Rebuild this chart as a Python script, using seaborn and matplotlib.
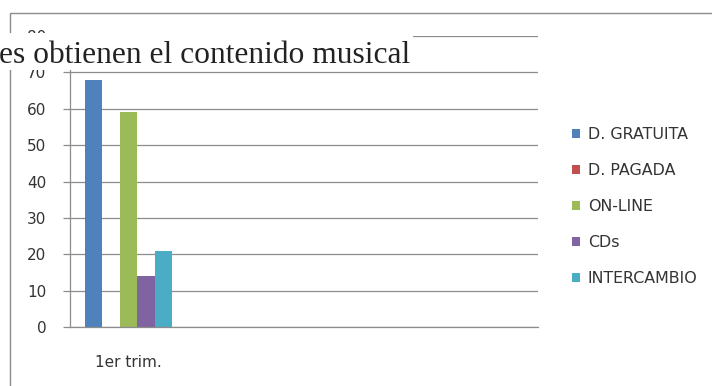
import numpy as np
import pandas as pd
import matplotlib
matplotlib.use("Agg")
import matplotlib.pyplot as plt
import seaborn as sns
from matplotlib.patches import Patch, Rectangle

periods = ["1er trim.", "2do trim.", "3er trim.", "4to trim."]
period_labels = ["1er trim.", "", "", ""]
series = ["D. GRATUITA", "D. PAGADA", "ON-LINE", "CDs", "INTERCAMBIO"]
gratuita = [68, np.nan, np.nan, np.nan]
pagada = [0, np.nan, np.nan, np.nan]
online = [59, np.nan, np.nan, np.nan]
cds = [14, np.nan, np.nan, np.nan]
intercambio = [21, np.nan, np.nan, np.nan]
colors = ["#4F81BD", "#C0504D", "#9BBB59", "#8064A2", "#4BACC6"]
yticks = [0, 10, 20, 30, 40, 50, 60, 70, 80]
title = "es obtienen el contenido musical"

rows = []
for name, vals in zip(series, [gratuita, pagada, online, cds, intercambio]):
    for p, v in zip(periods, vals):
        rows.append({"periodo": p, "serie": name, "valor": v})
df = pd.DataFrame(rows)

sns.set_theme(style="white")
plt.rcParams["font.family"] = ["DejaVu Sans"]

W, H = 712, 386
fig = plt.figure(figsize=(7.12, 3.86), dpi=100)
ax = fig.add_axes([70/W, (H-327)/H, (538-70)/W, (327-36)/H])

sns.barplot(data=df, x="periodo", y="valor", hue="serie", order=periods,
            hue_order=series, palette=colors, width=0.75, gap=0,
            saturation=1, ax=ax, legend=False, errorbar=None, linewidth=0)

ax.set_xlim(-0.5, 3.5)
ax.set_ylim(0, 80)
ax.set_yticks(yticks)
ax.set_yticklabels([str(t) for t in yticks], fontsize=11, color="#333333")
ax.yaxis.grid(True, color="#8c8c8c", linewidth=0.9)
ax.set_axisbelow(True)
ax.set_xlabel("")
ax.set_ylabel("")
ax.set_xticks(range(len(periods)))
ax.set_xticklabels(period_labels, fontsize=11, color="#333333")
ax.set_xticks([-0.5, 0.5, 1.5, 2.5, 3.5], minor=True)
ax.tick_params(axis="x", which="major", length=0, pad=20)
ax.tick_params(axis="x", which="minor", length=5, color="#8c8c8c", width=0.9, direction="out")
ax.tick_params(axis="y", which="major", length=5, color="#8c8c8c", width=0.9,
               direction="out", pad=12, left=True)
for s in ["top", "right"]:
    ax.spines[s].set_visible(False)
for s in ["left", "bottom"]:
    ax.spines[s].set_color("#8c8c8c")
    ax.spines[s].set_linewidth(0.9)

handles = [Patch(facecolor=c, edgecolor="none") for c in colors]
fig.legend(handles, series, loc="upper left", bbox_to_anchor=(572/W, 1-127/H),
           frameon=False, fontsize=11.4, handlelength=0.5, handleheight=0.5,
           handletextpad=0.5, labelspacing=1.33, borderaxespad=0, borderpad=0,
           labelcolor="#333333")

# outer chart border
fig.add_artist(Rectangle((10/W, -0.1), 1.0, (H-13)/H + 0.1, transform=fig.transFigure,
                         fill=False, edgecolor="#8c8c8c", linewidth=1.0, zorder=1))

# title box with white background, cut off on the left
fig.add_artist(Rectangle((0, 1-70/H), 413/W, 37/H, transform=fig.transFigure,
                         facecolor="white", edgecolor="none", zorder=5))
fig.text(-1/W, 1-63/H, title, fontsize=22.7, family=["Liberation Serif", "DejaVu Serif"],
         color="#222222", ha="left", va="baseline", zorder=6)

fig.savefig("out.png", dpi=100)
